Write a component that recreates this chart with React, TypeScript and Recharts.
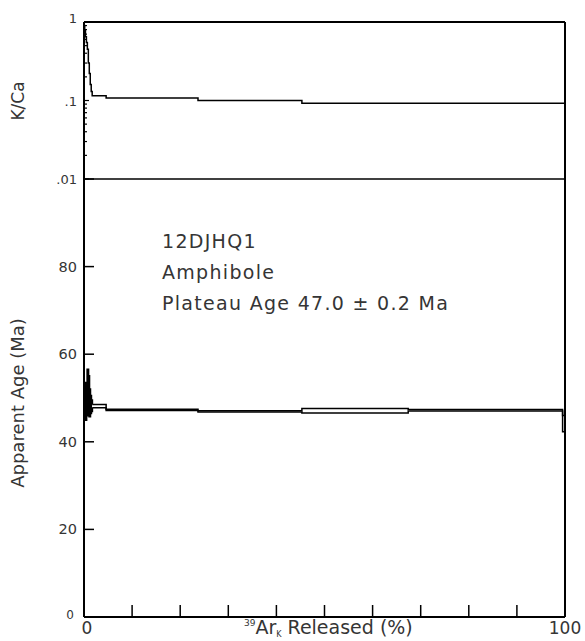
import React from 'react';
import { ComposedChart, Area, Line, XAxis, YAxis, ReferenceLine } from 'recharts';

// cumulative 39ArK released (%) at the start of each heating step
const stepStart = [0, 0.15, 0.3, 0.5, 0.7, 0.9, 1.1, 1.3, 1.5, 1.7, 4.6, 23.7, 45.3, 67.4, 99.5];
const stepEnd = 100;
// apparent age, 2-sigma box limits (Ma)
const ageLow = [45.5, 46, 45, 46.5, 47, 46, 45.8, 46.5, 47, 47.8, 47.15, 46.8, 46.6, 47.05, 42.3];
const ageHigh = [53.5, 52, 53.5, 51, 56.5, 55, 52, 50.5, 49.5, 48.5, 47.45, 47.1, 47.6, 47.35, 46.0];
// K/Ca per step
const kCa = [0.9, 0.78, 0.65, 0.55, 0.45, 0.3, 0.22, 0.16, 0.13, 0.115, 0.108, 0.1, 0.092, 0.092, 0.092];
// first low-temperature steps drawn solid
const noisySteps = 9;

const pctTicks = [0, 10, 20, 30, 40, 50, 60, 70, 80, 90, 100];
const ageTicks = [0, 20, 40, 60, 80, 100];
const kcaTicks = [0.01, 0.02, 0.03, 0.04, 0.05, 0.06, 0.07, 0.08, 0.09, 0.1, 0.2, 0.3, 0.4, 0.5, 0.6, 0.7, 0.8, 0.9, 1];
const kcaMajor = [0.01, 0.1, 1];
const kcaLabels = ['.01', '.1', '1'];

const sampleName = '12DJHQ1';
const mineral = 'Amphibole';
const plateauText = 'Plateau Age 47.0 \u00b1 0.2 Ma';

const last = stepStart.length - 1;
const kcaRows = [...stepStart.map((x, i) => ({ x, kca: kCa[i] })), { x: stepEnd, kca: kCa[last] }];
const blobRows = stepStart.slice(0, noisySteps + 1).map((x, i) => ({ x, age: [ageLow[i], ageHigh[i]] }));
const plateauRows = [
  ...stepStart.slice(noisySteps).map((x, j) => ({ x, age: [ageLow[noisySteps + j], ageHigh[noisySteps + j]] })),
  { x: stepEnd, age: [ageLow[last], ageHigh[last]] },
];

const FONT = '"DejaVu Sans", Verdana, sans-serif';
const TXT = '#353535';

const KcaTick = (props: any) => {
  const { x, y, payload } = props;
  const k = kcaMajor.indexOf(payload.value);
  return (
    <g>
      <line x1={x} y1={y} x2={x + (k >= 0 ? 5 : 3)} y2={y} stroke="#000" strokeWidth={1.2} />
      {k >= 0 && (
        <text x={x - 7} y={y + (k === 2 ? -4 : 0)} dy={5} textAnchor="end" fontSize={13} fill={TXT} fontFamily={FONT}>
          {kcaLabels[k]}
        </text>
      )}
    </g>
  );
};

const AgeTick = (props: any) => {
  const { x, y, payload } = props;
  const v = payload.value;
  return (
    <g>
      <line x1={x} y1={y} x2={x + 10} y2={y} stroke="#000" strokeWidth={1.5} />
      {v !== 100 && (
        <text
          x={v === 0 ? x - 10 : x - 7}
          y={v === 0 ? y - 3 : y}
          dy={5}
          textAnchor="end"
          fontSize={v === 0 ? 12 : 14.5}
          fill={TXT}
          fontFamily={FONT}
        >
          {v}
        </text>
      )}
    </g>
  );
};

const PctTick = (props: any) => {
  const { x, y, payload } = props;
  const v = payload.value;
  return (
    <g>
      <line x1={x} y1={y} x2={x} y2={y - 12} stroke="#000" strokeWidth={1.5} />
      {(v === 0 || v === 100) && (
        <text x={v === 0 ? x + 3 : x} y={y + 17} textAnchor="middle" fontSize={17} fill={TXT} fontFamily={FONT}>
          {v}
        </text>
      )}
    </g>
  );
};

export default function App() {
  return (
    <div style={{ position: 'absolute', left: 0, top: 0, width: 585, height: 641, background: '#fff' }}>
      <div style={{ position: 'absolute', left: 0, top: 0 }}>
        <ComposedChart width={585} height={641} data={plateauRows} margin={{ top: 179, right: 20, bottom: 0, left: 0 }}>
          <XAxis
            dataKey="x"
            type="number"
            domain={[0, 100]}
            ticks={pctTicks}
            interval={0}
            height={24}
            tickSize={0}
            tickMargin={0}
            tick={<PctTick />}
            axisLine={{ stroke: '#000', strokeWidth: 2 }}
            allowDataOverflow
          />
          <YAxis
            type="number"
            domain={[0, 100]}
            ticks={ageTicks}
            interval={0}
            width={84}
            tickSize={0}
            tickMargin={0}
            tick={<AgeTick />}
            axisLine={{ stroke: '#000', strokeWidth: 2 }}
            allowDataOverflow
          />
          <ReferenceLine x={100} stroke="#000" strokeWidth={2} />
          <Area
            data={blobRows}
            dataKey="age"
            type="stepAfter"
            stroke="#000"
            strokeWidth={2}
            fill="#000"
            fillOpacity={1}
            isAnimationActive={false}
          />
          <Area
            data={plateauRows}
            dataKey="age"
            type="stepAfter"
            stroke="#000"
            strokeWidth={1.5}
            fill="#fff"
            fillOpacity={1}
            isAnimationActive={false}
          />
        </ComposedChart>
      </div>
      <div style={{ position: 'absolute', left: 0, top: 0 }}>
        <ComposedChart width={585} height={190} data={kcaRows} margin={{ top: 22, right: 20, bottom: 11, left: 0 }}>
          <XAxis dataKey="x" type="number" domain={[0, 100]} hide allowDataOverflow />
          <YAxis
            type="number"
            scale="log"
            domain={[0.01, 1]}
            ticks={kcaTicks}
            interval={0}
            width={84}
            tickSize={0}
            tickMargin={0}
            tick={<KcaTick />}
            axisLine={{ stroke: '#000', strokeWidth: 2 }}
            allowDataOverflow
          />
          <ReferenceLine y={1} stroke="#000" strokeWidth={2} />
          <ReferenceLine y={0.01} stroke="#000" strokeWidth={1.5} />
          <ReferenceLine x={100} stroke="#000" strokeWidth={2} />
          <Line
            dataKey="kca"
            type="stepAfter"
            stroke="#000"
            strokeWidth={1.5}
            dot={false}
            isAnimationActive={false}
          />
        </ComposedChart>
      </div>
      <svg width={585} height={641} style={{ position: 'absolute', left: 0, top: 0, pointerEvents: 'none' }}>
        <g fontFamily={FONT} fill={TXT}>
          <text transform="translate(24,101) rotate(-90)" textAnchor="middle" fontSize={17}>K/Ca</text>
          <text transform="translate(24,403) rotate(-90)" textAnchor="middle" fontSize={18}>Apparent Age (Ma)</text>
          <text x={162} y={248} fontSize={19} letterSpacing={1.3}>{sampleName}</text>
          <text x={162} y={279} fontSize={19} letterSpacing={1.3}>{mineral}</text>
          <text x={162} y={310} fontSize={19} letterSpacing={1.3}>{plateauText}</text>
          <text x={244} y={634} fontSize={19}>
            <tspan fontSize={9} dy={-8}>39</tspan>
            <tspan dy={8}>Ar</tspan>
            <tspan fontSize={8} dy={3}>K</tspan>
            <tspan dy={-3}> Released (%)</tspan>
          </text>
        </g>
      </svg>
    </div>
  );
}
